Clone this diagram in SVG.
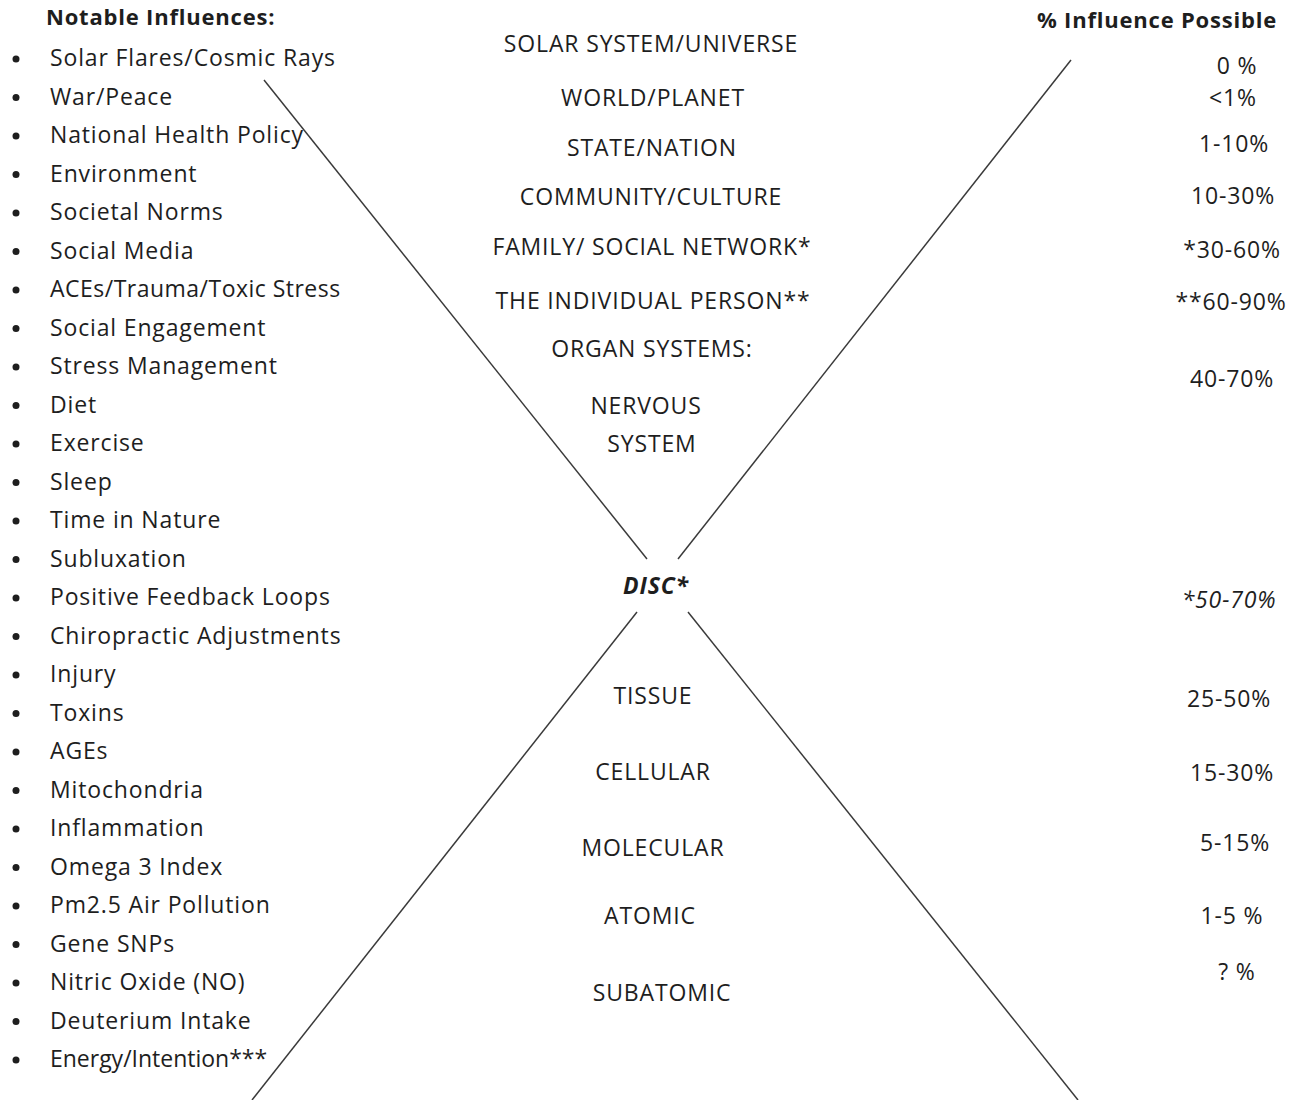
<svg xmlns="http://www.w3.org/2000/svg" width="1300" height="1100" viewBox="0 0 1300 1100">
<style>
text{font-family:"Open Sans","Liberation Sans",sans-serif;font-size:23px;letter-spacing:0.85px;fill:#1e1e1e}
.h{font-weight:bold;font-size:22px;letter-spacing:0.8px}
.c{text-anchor:middle}
.r{text-anchor:middle}
.ln{stroke:#3a3a3a;stroke-width:1.5;fill:none}
</style>
<rect width="1300" height="1100" fill="#fff"/>
<g id="connectors">
<line class="ln" x1="264" y1="80" x2="647" y2="559"/>
<line class="ln" x1="1071" y1="60" x2="678" y2="559"/>
<line class="ln" x1="637" y1="612" x2="252" y2="1100"/>
<line class="ln" x1="688" y1="612" x2="1078" y2="1100"/>
</g>
<g id="influences">
<text class="h" x="46" y="25">Notable Influences:</text>
<g id="list">
<g fill="#1e1e1e">
<circle cx="16" cy="59" r="3.5"/><circle cx="16" cy="97.5" r="3.5"/><circle cx="16" cy="136" r="3.5"/><circle cx="16" cy="174.5" r="3.5"/><circle cx="16" cy="213" r="3.5"/><circle cx="16" cy="251.5" r="3.5"/><circle cx="16" cy="290" r="3.5"/><circle cx="16" cy="328.5" r="3.5"/><circle cx="16" cy="367" r="3.5"/><circle cx="16" cy="405.5" r="3.5"/><circle cx="16" cy="444" r="3.5"/><circle cx="16" cy="482.5" r="3.5"/><circle cx="16" cy="521" r="3.5"/><circle cx="16" cy="559.5" r="3.5"/><circle cx="16" cy="598" r="3.5"/><circle cx="16" cy="636.5" r="3.5"/><circle cx="16" cy="675" r="3.5"/><circle cx="16" cy="713.5" r="3.5"/><circle cx="16" cy="752" r="3.5"/><circle cx="16" cy="790.5" r="3.5"/><circle cx="16" cy="829" r="3.5"/><circle cx="16" cy="867.5" r="3.5"/><circle cx="16" cy="906" r="3.5"/><circle cx="16" cy="944.5" r="3.5"/><circle cx="16" cy="983" r="3.5"/><circle cx="16" cy="1021.5" r="3.5"/><circle cx="16" cy="1060" r="3.5"/>
</g>
<text x="50" y="66">Solar Flares/Cosmic Rays</text>
<text x="50" y="104.5">War/Peace</text>
<text x="50" y="143">National Health Policy</text>
<text x="50" y="181.5">Environment</text>
<text x="50" y="220">Societal Norms</text>
<text x="50" y="258.5">Social Media</text>
<text x="50" y="297" textLength="291">ACEs/Trauma/Toxic Stress</text>
<text x="50" y="335.5">Social Engagement</text>
<text x="50" y="374">Stress Management</text>
<text x="50" y="412.5">Diet</text>
<text x="50" y="451">Exercise</text>
<text x="50" y="489.5">Sleep</text>
<text x="50" y="528">Time in Nature</text>
<text x="50" y="566.5">Subluxation</text>
<text x="50" y="605">Positive Feedback Loops</text>
<text x="50" y="643.5">Chiropractic Adjustments</text>
<text x="50" y="682">Injury</text>
<text x="50" y="720.5">Toxins</text>
<text x="50" y="759">AGEs</text>
<text x="50" y="797.5">Mitochondria</text>
<text x="50" y="836">Inflammation</text>
<text x="50" y="874.5">Omega 3 Index</text>
<text x="50" y="913">Pm2.5 Air Pollution</text>
<text x="50" y="951.5">Gene SNPs</text>
<text x="50" y="990">Nitric Oxide (NO)</text>
<text x="50" y="1028.5">Deuterium Intake</text>
<text x="50" y="1067" textLength="218">Energy/Intention***</text>
</g>
</g>
<g id="levels">
<text class="c" x="651" y="52">SOLAR SYSTEM/UNIVERSE</text>
<text class="c" x="653" y="106">WORLD/PLANET</text>
<text class="c" x="652" y="156">STATE/NATION</text>
<text class="c" x="651" y="205">COMMUNITY/CULTURE</text>
<text class="c" x="652" y="255">FAMILY/ SOCIAL NETWORK*</text>
<text class="c" x="653" y="309">THE INDIVIDUAL PERSON**</text>
<text class="c" x="652" y="357">ORGAN SYSTEMS:</text>
<text class="c" x="646" y="414">NERVOUS</text>
<text class="c" x="652" y="452">SYSTEM</text>
<text class="c" x="656" y="594" font-weight="bold" font-style="italic">DISC*</text>
<text class="c" x="653" y="704">TISSUE</text>
<text class="c" x="653" y="780">CELLULAR</text>
<text class="c" x="653" y="856">MOLECULAR</text>
<text class="c" x="650" y="924">ATOMIC</text>
<text class="c" x="662" y="1001">SUBATOMIC</text>
</g>
<g id="percentages">
<text class="h r" x="1157" y="28">% Influence Possible</text>
<text class="r" x="1237" y="74">0 %</text>
<text class="r" x="1233" y="106">&lt;1%</text>
<text class="r" x="1234" y="152">1-10%</text>
<text class="r" x="1233" y="204">10-30%</text>
<text class="r" x="1232" y="258">*30-60%</text>
<text class="r" x="1231" y="310">**60-90%</text>
<text class="r" x="1232" y="387">40-70%</text>
<text class="r" x="1229" y="608" font-style="italic">*50-70%</text>
<text class="r" x="1229" y="707">25-50%</text>
<text class="r" x="1232" y="781">15-30%</text>
<text class="r" x="1235" y="851">5-15%</text>
<text class="r" x="1232" y="924">1-5 %</text>
<text class="r" x="1237" y="980">? %</text>
</g>
</svg>
